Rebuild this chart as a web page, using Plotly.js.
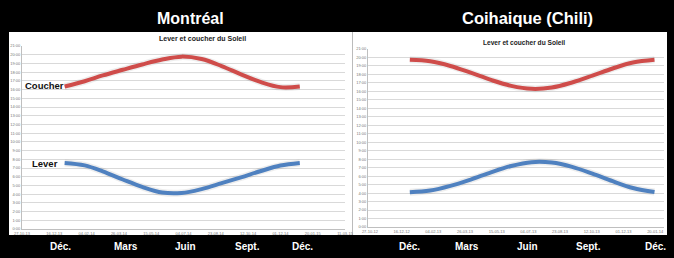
<!DOCTYPE html>
<html>
<head>
<meta charset="utf-8">
<script src="https://cdn.plot.ly/plotly-3.0.1.min.js"></script>
<style>html,body{margin:0;padding:0;background:#000;}#chart{width:674px;height:258px;}</style>
</head>
<body>
<div id="chart"></div>
<script>
// ---- Data ----
const cities = ['Montréal', 'Coihaique (Chili)'];
const chartTitle = 'Lever et coucher du Soleil';
const monthLabels = ['Déc.', 'Mars', 'Juin', 'Sept.', 'Déc.'];
const seriesNames = ['Coucher', 'Lever'];

const mtlDates = ['2014-01-01','2014-02-01','2014-03-01','2014-04-01','2014-05-01','2014-06-01','2014-07-01','2014-08-01','2014-09-01','2014-10-01','2014-11-01','2014-12-01','2014-12-31'];
const mtlCoucher = [16.35, 16.95, 17.62, 18.27, 18.88, 19.45, 19.78, 19.50, 18.70, 17.75, 16.85, 16.28, 16.35];
const mtlLever   = [7.58, 7.30, 6.62, 5.68, 4.83, 4.18, 4.13, 4.58, 5.26, 5.93, 6.66, 7.28, 7.58];

const coyDates = ['2012-12-29','2013-01-30','2013-03-03','2013-04-04','2013-05-06','2013-06-07','2013-07-09','2013-08-10','2013-09-11','2013-10-13','2013-11-14','2013-12-16','2014-01-19'];
const coyCoucher = [19.72, 19.55, 19.00, 18.20, 17.35, 16.65, 16.30, 16.45, 17.05, 17.85, 18.70, 19.40, 19.72];
const coyLever   = [4.10, 4.30, 4.85, 5.60, 6.45, 7.20, 7.65, 7.60, 7.10, 6.30, 5.40, 4.60, 4.12];

const hourVals = [0,1,2,3,4,5,6,7,8,9,10,11,12,13,14,15,16,17,18,19,20,21];
const hourText = ['0:00','1:00','2:00','3:00','4:00','5:00','6:00','7:00','8:00','9:00','10:00','11:00','12:00','13:00','14:00','15:00','16:00','17:00','18:00','19:00','20:00','21:00'];

// ---- Helpers ----
const W = 674, H = 258;
const px = x => x / W;
const py = y => 1 - y / H;
const RED = '#cf4c4a', BLUE = '#4f81c0';
const DAY = 86400000;
const FONT = 'Liberation Sans, Arial, sans-serif';

function line(x, y, color, xa, ya, width) {
  return {x: x, y: y, type: 'scatter', mode: 'lines', xaxis: xa, yaxis: ya,
    line: {color: color, width: width, shape: 'spline', smoothing: 1}, hoverinfo: 'skip'};
}

const SHADOW = 'rgba(0,0,0,0.07)';
const traces = [
  line(mtlDates, mtlCoucher, SHADOW, 'x', 'y', 7),
  line(mtlDates, mtlLever, SHADOW, 'x', 'y', 7),
  line(mtlDates, mtlCoucher, RED, 'x', 'y', 4),
  line(mtlDates, mtlLever, BLUE, 'x', 'y', 4),
  line(coyDates, coyCoucher, SHADOW, 'x2', 'y2', 7),
  line(coyDates, coyLever, SHADOW, 'x2', 'y2', 7),
  line(coyDates, coyCoucher, RED, 'x2', 'y2', 4),
  line(coyDates, coyLever, BLUE, 'x2', 'y2', 4)
];

const tickFont = {family: FONT, size: 4, color: '#777'};
function xAxis(domain, range, tick0, anchor) {
  return {domain: domain, type: 'date', range: range, tick0: tick0, dtick: 50 * DAY,
    tickformat: '%d-%m-%y', tickfont: tickFont, showgrid: false, showline: true,
    linecolor: '#bfbfbf', linewidth: 1, ticks: '', zeroline: false, anchor: anchor, fixedrange: true};
}
function yAxis(domain, anchor) {
  return {domain: domain, range: [0, 21], tickvals: hourVals, ticktext: hourText, tickfont: tickFont,
    gridcolor: '#d9d9d9', gridwidth: 1, showline: true, linecolor: '#bfbfbf', linewidth: 1,
    ticks: '', zeroline: false, anchor: anchor, fixedrange: true};
}

const white = {family: FONT, color: '#fff'};
const annotations = [
  {text: '<b>' + cities[0] + '</b>', x: px(190), y: py(18), font: Object.assign({size: 16}, white)},
  {text: '<b>' + cities[1] + '</b>', x: px(527), y: py(18), font: Object.assign({size: 16.5}, white)},
  {text: '<b>' + chartTitle + '</b>', x: px(202), y: py(38), font: {family: FONT, size: 7, color: '#222'}},
  {text: '<b>' + chartTitle + '</b>', x: px(524), y: py(42), font: {family: FONT, size: 6.6, color: '#222'}},
  {text: '<b>' + seriesNames[0] + '</b>', x: px(66), y: py(86), xanchor: 'right', font: {family: FONT, size: 9.5, color: '#111'}},
  {text: '<b>' + seriesNames[1] + '</b>', x: px(60), y: py(163), xanchor: 'right', font: {family: FONT, size: 9.5, color: '#111'}}
];
const leftMonthX = [60, 126, 185, 247, 302];
const rightMonthX = [409, 467, 527, 588, 655];
monthLabels.forEach((m, i) => {
  annotations.push({text: '<b>' + m + '</b>', x: px(leftMonthX[i]), y: py(246), font: Object.assign({size: 10}, white)});
  annotations.push({text: '<b>' + m + '</b>', x: px(rightMonthX[i]), y: py(246), font: Object.assign({size: 10}, white)});
});
annotations.forEach(a => { a.xref = 'paper'; a.yref = 'paper'; a.showarrow = false; if (!a.xanchor) a.xanchor = 'center'; a.yanchor = 'middle'; });

const shapes = [
  {type: 'rect', xref: 'paper', yref: 'paper', x0: px(9), x1: px(352), y0: py(235), y1: py(32), fillcolor: '#fff', line: {width: 0}, layer: 'below'},
  {type: 'rect', xref: 'paper', yref: 'paper', x0: px(353), x1: px(667), y0: py(235), y1: py(32), fillcolor: '#fff', line: {width: 0}, layer: 'below'},
  {type: 'line', xref: 'paper', yref: 'paper', x0: px(352.5), x1: px(352.5), y0: py(235), y1: py(32), line: {color: '#bbb', width: 1}, layer: 'below'}
];

const layout = {
  width: W, height: H, margin: {l: 0, r: 0, t: 0, b: 0, pad: 0},
  paper_bgcolor: '#000', plot_bgcolor: 'rgba(0,0,0,0)', showlegend: false,
  xaxis: xAxis([px(22), px(345)], ['2013-10-27', '2015-03-11'], '2013-10-27', 'y'),
  yaxis: yAxis([py(229), py(46)], 'x'),
  xaxis2: xAxis([px(368), px(664)], ['2012-10-24', '2014-02-03'], '2012-10-27', 'y2'),
  yaxis2: yAxis([py(227), py(49)], 'x2'),
  annotations: annotations, shapes: shapes
};

Plotly.newPlot('chart', traces, layout, {displayModeBar: false, staticPlot: true});
</script>
</body>
</html>
